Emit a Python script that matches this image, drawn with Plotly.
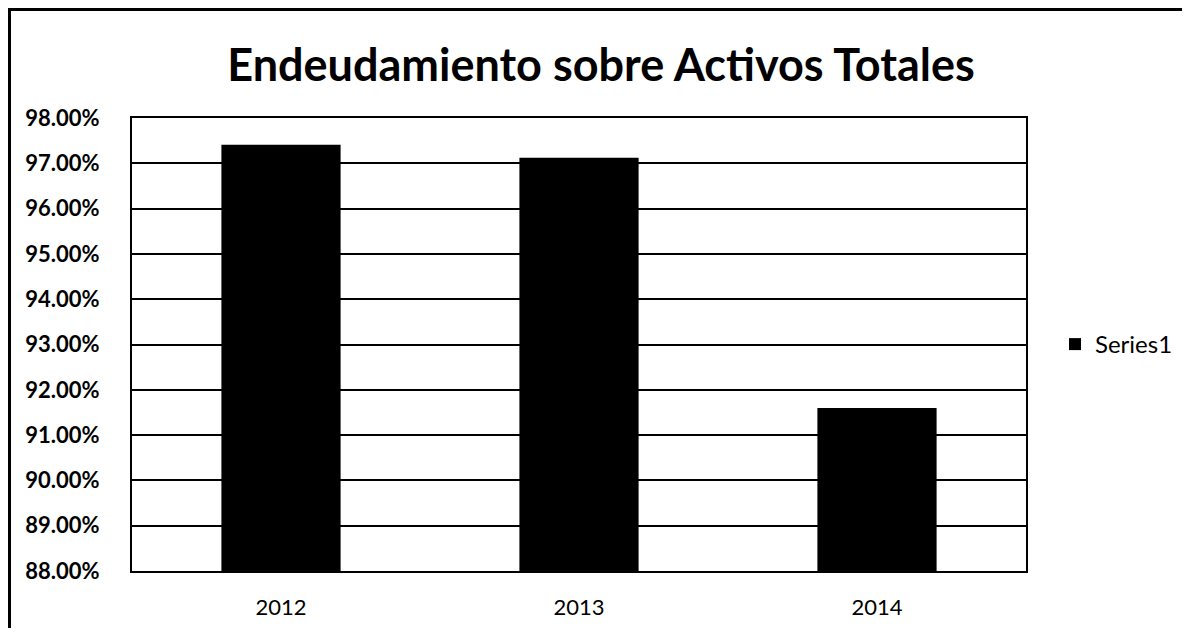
import plotly.graph_objects as go

years = ["2012", "2013", "2014"]
ratios = [97.41, 97.12, 91.60]
y_ticks = [88, 89, 90, 91, 92, 93, 94, 95, 96, 97, 98]
y_tick_labels = [f"{v:.2f}%" for v in y_ticks]

# page body has an 8px margin, so the figure is offset by (8, 8)
W, H = 1174, 620
L, R, T, B = 124, 156, 110, 57
PW, PH = W - L - R, H - T - B

fig = go.Figure()
fig.add_trace(go.Bar(
    x=years, y=ratios, name="Series1",
    marker=dict(color="black", line=dict(width=0)),
    width=0.4,
    showlegend=True,
))

font_family = "Lato, Carlito, 'Open Sans', sans-serif"
fig.update_layout(
    width=W, height=H,
    margin=dict(l=L, r=R, t=T, b=B, autoexpand=False),
    paper_bgcolor="white", plot_bgcolor="white",
    title=dict(text="<b>Endeudamiento sobre Activos Totales</b>",
               x=593 / W, xanchor="center", y=1 - 57 / H, yanchor="middle",
               font=dict(family=font_family, size=45, color="black")),
    showlegend=True,
    legend=dict(x=(1047 - L) / PW, xanchor="left", y=0.5, yanchor="middle",
                font=dict(family=font_family, size=24, color="black"),
                bgcolor="rgba(0,0,0,0)"),
    bargap=0.6,
)
fig.update_yaxes(
    range=[88, 98], tickvals=y_ticks, ticktext=y_tick_labels,
    showgrid=True, gridcolor="black", gridwidth=2,
    showline=True, linecolor="black", linewidth=2, mirror=True,
    ticks="", ticklen=0, ticklabelstandoff=26,
    tickfont=dict(family=font_family, size=22, color="black", weight="bold"),
    zeroline=False,
)
fig.update_xaxes(
    showline=True, linecolor="black", linewidth=2, mirror=True,
    ticks="", ticklabelstandoff=16,
    tickfont=dict(family=font_family, size=22, color="black"),
)
# outer chart frame: a large bordered box whose right and bottom edges fall
# outside the figure, so only its left and top edges are visible
fx0 = (0 - L) / PW
fy1 = 1 + T / PH
fig.add_annotation(
    xref="paper", yref="paper", x=fx0, y=fy1,
    xanchor="left", yanchor="top", showarrow=False,
    text=" ", width=W + 200, height=H + 200,
    bordercolor="black", borderwidth=3, borderpad=0,
    bgcolor="rgba(0,0,0,0)",
)
fig.write_html("out.html")
